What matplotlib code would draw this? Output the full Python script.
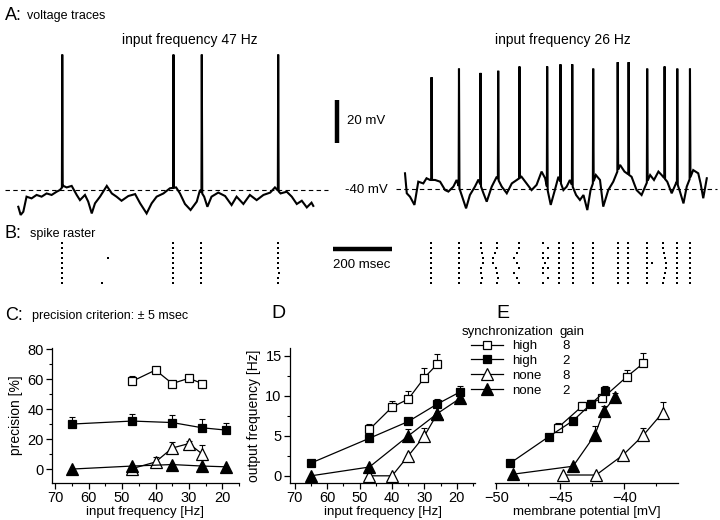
import numpy as np
import matplotlib
matplotlib.use("Agg")
import matplotlib.pyplot as plt
from matplotlib.ticker import MultipleLocator

plt.rcParams['font.family'] = ['Liberation Sans', 'DejaVu Sans']

# ---------------- data: voltage traces (ms, mV) ----------------
left_t = [1, 9, 18, 29, 46, 63, 80, 97, 114, 131, 142, 154, 165, 182, 199, 210, 227, 238, 250, 261,
          278, 301, 318, 334, 351, 374, 397, 414, 436, 453, 470, 493, 515, 536, 549, 566, 585, 606,
          617, 631, 642, 656, 679, 702, 724, 741, 764, 786, 809, 832, 855, 871, 890, 911, 928, 945,
          962, 979, 995, 1001]
left_v = [-47.8, -51.6, -50.1, -43.1, -43.9, -42.3, -43.1, -41.6, -42.3, -40.8, -40.0, -38.1, -38.8,
          -38.1, -42.3, -44.7, -42.3, -45.4, -50.9, -46.2, -43.1, -38.1, -41.6, -43.1, -45.0, -42.8,
          -41.9, -46.2, -50.9, -46.2, -43.1, -41.6, -39.2, -38.8, -41.6, -46.5, -49.3, -45.4, -40.0,
          -43.1, -47.8, -43.1, -41.2, -42.8, -47.0, -43.1, -46.5, -42.3, -44.7, -42.3, -41.2, -38.8,
          -41.6, -40.8, -43.1, -46.5, -45.0, -48.1, -45.9, -47.4]
left_spike_t = [150, 527, 623, 882]
left_spike_peak = [23, 23, 23, 23]

right_t = [0, 6, 17, 32, 45, 62, 73, 85, 102, 119, 136, 147, 164, 175, 192, 207, 220, 237, 249, 266,
           277, 294, 311, 328, 345, 362, 379, 395, 412, 429, 446, 463, 475, 494, 508, 520, 537, 548,
           559, 580, 593, 605, 618, 629, 647, 661, 672, 689, 706, 729, 744, 768, 785, 802, 814, 831,
           844, 859, 870, 889, 904, 921, 932, 944, 955, 977, 994, 1002, 1011, 1023]
right_v = [-32.7, -42.0, -43.6, -47.4, -36.6, -37.4, -35.0, -35.8, -35.8, -36.6, -40.5, -41.2, -38.9,
           -35.8, -42.8, -49.0, -42.8, -38.9, -35.6, -42.0, -45.9, -38.9, -34.3, -38.9, -42.0, -37.4,
           -35.8, -34.3, -37.4, -40.5, -38.1, -31.9, -35.0, -47.4, -40.5, -34.3, -40.5, -38.9, -35.8,
           -42.8, -45.1, -42.8, -49.8, -40.5, -33.5, -35.8, -48.2, -40.5, -36.6, -28.8, -31.9, -34.3,
           -40.5, -42.8, -38.9, -33.5, -35.8, -31.9, -33.5, -36.6, -42.0, -36.6, -41.2, -46.7, -38.9,
           -31.2, -32.7, -37.4, -44.3, -35.0]
right_spike_t = [90, 183, 256, 316, 388, 482, 527, 567, 638, 721, 758, 821, 880, 923, 966]
right_spike_peak = [12, 16, 14, 15, 17, 17, 18, 18, 16, 19, 19, 16, 17, 16, 16]

# ---------------- data: spike rasters (ms per trial) ----------------
raster_left = [
    [149, 525, 621, 882],
    [149, 525, 620, 882],
    [149, 525, 621, 882],
    [149, 305, 525, 619, 882],
    [149, 525, 622, 882],
    [149, 525, 621, 883],
    [149, 525, 620, 886],
    [149, 525, 621, 882],
    [149, 285, 525, 620, 881],
]
raster_right = [
    [88, 183, 257, 311, 388, 467, 523, 568, 638, 723, 757, 822, 876, 921, 966],
    [88, 183, 257, 313, 388, 484, 523, 568, 638, 723, 757, 822, 876, 921, 966],
    [88, 183, 260, 305, 379, 467, 523, 568, 638, 723, 757, 822, 879, 921, 966],
    [88, 183, 263, 297, 370, 467, 484, 523, 568, 638, 723, 757, 822, 881, 921, 966],
    [88, 183, 263, 299, 379, 475, 523, 568, 638, 723, 757, 822, 836, 885, 921, 966],
    [88, 183, 257, 309, 388, 467, 484, 523, 568, 638, 723, 757, 822, 885, 921, 966],
    [88, 183, 257, 313, 370, 467, 523, 568, 638, 723, 757, 822, 881, 921, 966],
    [88, 183, 260, 316, 379, 484, 523, 568, 638, 723, 757, 822, 879, 921, 966],
    [88, 183, 257, 313, 388, 467, 523, 568, 638, 723, 757, 822, 876, 921, 966],
]

# ---------------- data: panel C (precision %) ----------------
c_hs8_x = [47, 40, 35, 30, 26];      c_hs8_y = [58.5, 66, 57, 60.5, 57];   c_hs8_e = [3.5, 2, 1, 2.5, 1]
c_hs2_x = [65, 47, 35, 26, 19];      c_hs2_y = [30, 32, 31, 27.5, 26];     c_hs2_e = [4.5, 4.5, 5, 6, 5]
c_no8_x = [47, 40, 35, 30, 26];      c_no8_y = [0.3, 4.7, 14, 17, 10];     c_no8_e = [0, 3.5, 4, 2, 6]
c_no2_x = [65, 47, 35, 26, 19];      c_no2_y = [0, 2, 3, 2, 1.5];          c_no2_e = [0, 0, 0, 0, 0]

# ---------------- data: panel D (output frequency Hz vs input Hz) ----------------
d_hs8_x = [47, 40, 35, 30, 26];      d_hs8_y = [5.8, 8.6, 9.6, 12.3, 14];  d_hs8_e = [0.7, 0.8, 1.0, 1.2, 1.2]
d_hs2_x = [65, 47, 35, 26, 19];      d_hs2_y = [1.6, 4.7, 6.8, 9.0, 10.5]; d_hs2_e = [0, 0, 0, 0.6, 0.8]
d_no8_x = [47, 40, 35, 30, 26];      d_no8_y = [0, 0, 2.5, 5.0, 7.8];      d_no8_e = [0, 0, 0, 1.0, 0]
d_no2_x = [65, 47, 35, 26, 19];      d_no2_y = [0, 1.1, 5.0, 7.8, 9.7];    d_no2_e = [0, 0, 0.8, 0, 0]

# ---------------- data: panel E (output frequency Hz vs membrane potential mV) ----------------
e_hs8_x = [-45.2, -43.3, -41.7, -39.8, -38.5]; e_hs8_y = [6.0, 8.7, 9.7, 12.4, 14.1]; e_hs8_e = [0.6, 0.6, 0.6, 0.9, 1.3]
e_hs2_x = [-48.9, -45.9, -44.0, -42.6, -41.5]; e_hs2_y = [1.6, 4.9, 6.9, 9.0, 10.6]; e_hs2_e = [0, 0, 0, 0.5, 0.6]
e_no8_x = [-44.8, -42.2, -40.1, -38.5, -37.0]; e_no8_y = [0.1, 0.1, 2.6, 5.1, 7.9];  e_no8_e = [0, 0, 0, 0.9, 1.3]
e_no2_x = [-48.7, -44.0, -42.3, -41.6, -40.7]; e_no2_y = [0.2, 1.2, 5.1, 8.1, 9.9];  e_no2_e = [0, 0, 1.1, 0.6, 0.5]

legend_sync = ['high', 'high', 'none', 'none']
legend_gain = ['8', '2', '8', '2']

# ---------------- figure helpers ----------------
W, H = 720, 520
fig = plt.figure(figsize=(W / 100, H / 100), dpi=100)


def px_axes(x0, y0, x1, y1):
    ax = fig.add_axes([x0 / W, 1 - y1 / H, (x1 - x0) / W, (y1 - y0) / H])
    ax.patch.set_alpha(0)
    return ax


def ftext(x, y, s, **kw):
    kw.setdefault('va', 'center')
    fig.text(x / W, 1 - y / H, s, **kw)


PX_MS = 0.295
PX_MV = 2.15


def trace_xy(bt, bv, st, sp):
    bt = np.asarray(bt, float); bv = np.asarray(bv, float)
    pts = list(zip(bt, bv))
    for t, p in zip(st, sp):
        pts.append((t - 1.2, np.interp(t - 1.2, bt, bv)))
        pts.append((t, p))
        pts.append((t + 1.6, np.interp(t + 1.6, bt, bv)))
    pts.sort(key=lambda a: a[0])
    return [a for a, b in pts], [b for a, b in pts]


def trace_axes(x0, x1, origin_px, dash_y):
    ax = px_axes(x0, 45, x1, 275)
    ax.set_xlim((x0 - origin_px) / PX_MS, (x1 - origin_px) / PX_MS)
    ax.set_ylim(-40 - (275 - dash_y) / PX_MV, -40 + (dash_y - 45) / PX_MV)
    ax.axis('off')
    return ax


# ---------------- panel A: traces ----------------
axL = trace_axes(0, 400, 18, 190)
tx, vy = trace_xy(left_t, left_v, left_spike_t, left_spike_peak)
axL.plot(tx, vy, color='k', lw=1.5, solid_joinstyle='miter')
axL.plot([-44, 1051], [-40, -40], ls=(0, (4, 3)), color='k', lw=0.8)
# scale bars
axL.plot([1081, 1081], [-18, 2], color='k', lw=3.2, solid_capstyle='butt')
axL.plot([1068, 1268], [-67.4, -67.4], color='k', lw=3.2, solid_capstyle='butt')
axL.text(1115, -8, '20 mV', fontsize=9.5, va='center', ha='left')
axL.text(1108, -40, '-40 mV', fontsize=9.5, va='center', ha='left')
axL.text(1068, -75, '200 msec', fontsize=9.5, va='center', ha='left')

axR = trace_axes(390, 720, 405, 189)
tx, vy = trace_xy(right_t, right_v, right_spike_t, right_spike_peak)
axR.plot(tx, vy, color='k', lw=1.5, solid_joinstyle='miter')
axR.plot([-30, 1058], [-40, -40], ls=(0, (4, 3)), color='k', lw=0.8)

# ---------------- panel B: rasters ----------------
for (x0, x1, org, data) in [(0, 400, 18, raster_left), (390, 720, 405, raster_right)]:
    ax = px_axes(x0, 238, x1, 288)
    ax.set_xlim((x0 - org) / PX_MS, (x1 - org) / PX_MS)
    ax.set_ylim(10, 0)
    ax.axis('off')
    for i, row in enumerate(data):
        ax.plot(row, [i + 1] * len(row), ls='none', marker='s', ms=2.0, color='k', mew=0)

# ---------------- titles ----------------
ftext(5, 15, 'A:', fontsize=13)
ftext(27, 16, 'voltage traces', fontsize=9)
ftext(190, 40, 'input frequency 47 Hz', fontsize=10, ha='center')
ftext(563, 40, 'input frequency 26 Hz', fontsize=10, ha='center')
ftext(5, 233, 'B:', fontsize=13)
ftext(30, 234, 'spike raster', fontsize=9)
ftext(5, 315, 'C:', fontsize=13)
ftext(32, 316, 'precision criterion: \u00b1 5 msec', fontsize=9)
ftext(271, 313, 'D', fontsize=14)
ftext(496, 313, 'E', fontsize=14)

# ---------------- styles ----------------
styles = [
    dict(marker='s', mfc='white', ms=6.3),
    dict(marker='s', mfc='black', ms=6.3),
    dict(marker='^', mfc='white', ms=8.3),
    dict(marker='^', mfc='black', ms=8.3),
]


def series(ax, x, y, e, st):
    x = np.asarray(x, float); y = np.asarray(y, float); e = np.asarray(e, float)
    m = e > 0
    if m.any():
        ax.errorbar(x[m], y[m], yerr=[np.zeros(m.sum()), e[m]], fmt='none', ecolor='k',
                    elinewidth=0.8, capsize=2.2, capthick=0.8, zorder=1)
    line, = ax.plot(x, y, color='k', lw=0.9, mec='k', mew=0.9, zorder=3, **st)
    return line


def style_axes(ax):
    for s in ['top', 'right']:
        ax.spines[s].set_visible(False)
    for s in ['left', 'bottom']:
        ax.spines[s].set_linewidth(0.9)
    ax.tick_params(which='major', direction='out', length=4, width=0.9, labelsize=10.5, pad=2)
    ax.tick_params(which='minor', direction='out', length=2.2, width=0.8)


# ---------------- panel C ----------------
axC = px_axes(52, 348.3, 239, 483)
axC.set_xlim(71, 15)
axC.set_ylim(-9.3, 80.5)
for (x, y, e), st in zip([(c_hs8_x, c_hs8_y, c_hs8_e), (c_hs2_x, c_hs2_y, c_hs2_e),
                          (c_no8_x, c_no8_y, c_no8_e), (c_no2_x, c_no2_y, c_no2_e)], styles):
    series(axC, x, y, e, st)
style_axes(axC)
axC.xaxis.set_major_locator(MultipleLocator(10))
axC.xaxis.set_minor_locator(MultipleLocator(5))
axC.yaxis.set_major_locator(MultipleLocator(20))
axC.yaxis.set_minor_locator(MultipleLocator(10))
axC.set_ylabel('precision [%]', fontsize=10, labelpad=3)
axC.set_xlabel('input frequency [Hz]', fontsize=9.5, labelpad=0.5)

# ---------------- panel D ----------------
axD = px_axes(290, 348, 475, 483)
axD.set_xlim(71.5, 14.4)
axD.set_ylim(-0.9, 16)
for (x, y, e), st in zip([(d_hs8_x, d_hs8_y, d_hs8_e), (d_hs2_x, d_hs2_y, d_hs2_e),
                          (d_no8_x, d_no8_y, d_no8_e), (d_no2_x, d_no2_y, d_no2_e)], styles):
    series(axD, x, y, e, st)
style_axes(axD)
axD.xaxis.set_major_locator(MultipleLocator(10))
axD.xaxis.set_minor_locator(MultipleLocator(5))
axD.yaxis.set_major_locator(MultipleLocator(5))
axD.yaxis.set_minor_locator(MultipleLocator(2.5))
axD.set_ylabel('output frequency [Hz]', fontsize=10, labelpad=3)
axD.set_xlabel('input frequency [Hz]', fontsize=9.5, labelpad=0.5)

# ---------------- panel E ----------------
axE = px_axes(495, 348, 678, 483)
axE.set_xlim(-50.1, -35.8)
axE.set_ylim(-0.9, 16)
handles = []
for (x, y, e), st in zip([(e_hs8_x, e_hs8_y, e_hs8_e), (e_hs2_x, e_hs2_y, e_hs2_e),
                          (e_no8_x, e_no8_y, e_no8_e), (e_no2_x, e_no2_y, e_no2_e)], styles):
    handles.append(series(axE, x, y, e, st))
style_axes(axE)
axE.spines['left'].set_visible(False)
axE.set_yticks([])
axE.xaxis.set_major_locator(MultipleLocator(5))
axE.xaxis.set_minor_locator(MultipleLocator(2.5))
axE.set_xlabel('membrane potential [mV]', fontsize=9.5, labelpad=0.5)

# legend
ftext(462, 332, 'synchronization', fontsize=9.5)
ftext(560, 332, 'gain', fontsize=9.5)
leg = fig.legend(handles, legend_sync, loc='upper left', bbox_to_anchor=(471 / W, 1 - 340 / H),
                 frameon=False, fontsize=9.5, handlelength=2.4, handletextpad=0.7,
                 labelspacing=0.2, borderpad=0, borderaxespad=0)
fig.canvas.draw()
for txt, g in zip(leg.get_texts(), legend_gain):
    bb = txt.get_window_extent()
    yc = (bb.y0 + bb.y1) / 2
    fig.text(566 / W, yc / H, g, fontsize=9.5, ha='center', va='center')

fig.savefig('out.png', dpi=100)
